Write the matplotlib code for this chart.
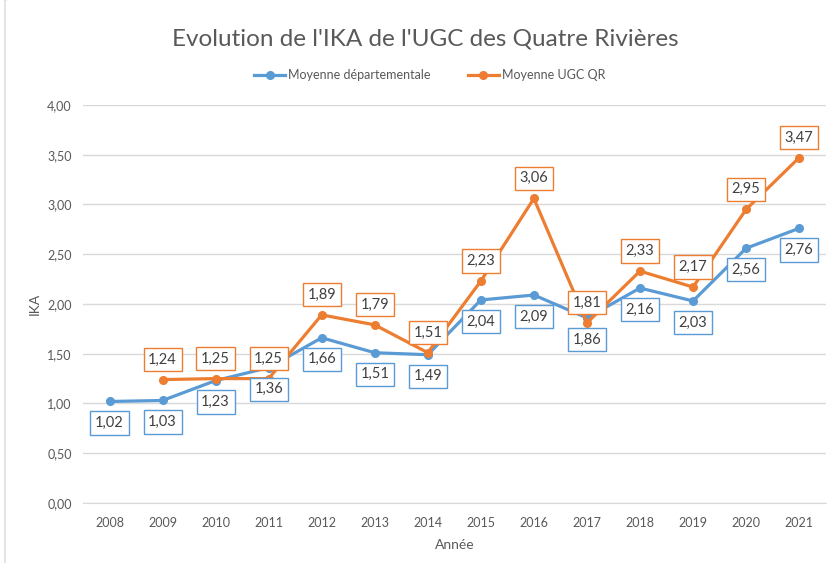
import matplotlib.pyplot as plt
from matplotlib.patches import FancyBboxPatch
import numpy as np

plt.rcParams['font.family'] = ['Lato', 'DejaVu Sans']

years = ['2008', '2009', '2010', '2011', '2012', '2013', '2014',
         '2015', '2016', '2017', '2018', '2019', '2020', '2021']
dept = [1.02, 1.03, 1.23, 1.36, 1.66, 1.51, 1.49,
        2.04, 2.09, 1.86, 2.16, 2.03, 2.56, 2.76]
ugc = [np.nan, 1.24, 1.25, 1.25, 1.89, 1.79, 1.51,
       2.23, 3.06, 1.81, 2.33, 2.17, 2.95, 3.47]
yticks = [0, 0.5, 1, 1.5, 2, 2.5, 3, 3.5, 4]

blue = '#5B9BD5'
orange = '#ED7D31'
txt = '#404040'


def fr(v):
    return f'{v:.2f}'.replace('.', ',')


fig = plt.figure(figsize=(8.34, 5.63), dpi=100)
ax = fig.add_axes([0.0995, 0.1066, 0.8905, 0.707])

x = np.arange(len(years))
ax.plot(x, dept, color=blue, lw=2.3, marker='o', ms=5.5, label='Moyenne départementale', zorder=3)
ax.plot(x, ugc, color=orange, lw=2.3, marker='o', ms=5.5, label='Moyenne UGC QR', zorder=3)

for i, v in enumerate(dept):
    ax.annotate(fr(v), (i, v), xytext=(0, -15.5), textcoords='offset points',
                ha='center', va='center', fontsize=10.5, color=txt, zorder=5,
                bbox=dict(boxstyle='square,pad=0.32', fc='white', ec=blue, lw=1))
for i, v in enumerate(ugc):
    if np.isnan(v):
        continue
    ax.annotate(fr(v), (i, v), xytext=(0, 14.5), textcoords='offset points',
                ha='center', va='center', fontsize=10.5, color=txt, zorder=5,
                bbox=dict(boxstyle='square,pad=0.32', fc='white', ec=orange, lw=1))

ax.set_xlim(-0.5, len(years) - 0.5)
ax.set_ylim(0, 4)
ax.set_yticks(yticks)
ax.set_yticklabels([fr(v) for v in yticks])
ax.set_xticks(x)
ax.set_xticklabels(years)
ax.tick_params(length=0, labelsize=9, colors='#595959')
ax.tick_params(axis='x', pad=10)
ax.tick_params(axis='y', pad=8)
ax.grid(axis='y', color='#D9D9D9', lw=1)
ax.set_axisbelow(True)
for s in ax.spines.values():
    s.set_visible(False)
ax.spines['bottom'].set_visible(True)
ax.spines['bottom'].set_color('#D9D9D9')

ax.set_ylabel('IKA', fontsize=10, color='#595959', labelpad=5)
ax.set_xlabel('Année', fontsize=10, color='#595959', labelpad=7)

fig.text(0.51, 0.93, "Evolution de l'IKA de l'UGC des Quatre Rivières",
         ha='center', va='center', fontsize=17.5, color='#595959')
fig.legend(loc='center', bbox_to_anchor=(0.515, 0.866), ncol=2, frameon=False,
           fontsize=9, labelcolor='#595959', handlelength=2.5, handletextpad=0.2,
           columnspacing=3)

fig.patches.append(FancyBboxPatch((0.006, -0.02), 1.1, 1.03, boxstyle='round,pad=0,rounding_size=0.01',
                                  transform=fig.transFigure, fc='none', ec='#D9D9D9', lw=1))

fig.savefig('out.png', dpi=100)
